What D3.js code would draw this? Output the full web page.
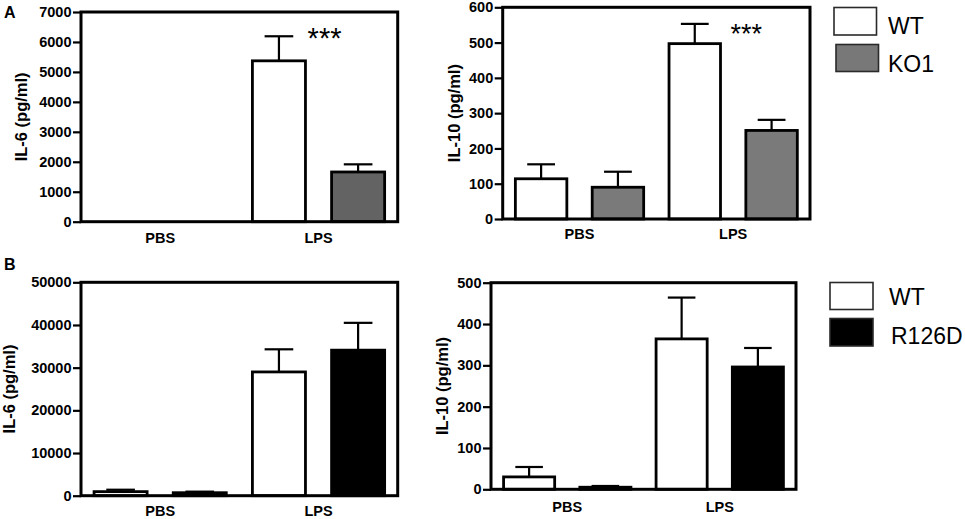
<!DOCTYPE html>
<html><head><meta charset="utf-8">
<script src="https://cdn.jsdelivr.net/npm/d3@7"></script>
<style>
body{margin:0;background:#fff}
svg{display:block}
text{font-family:"Liberation Sans",Arial,Helvetica,sans-serif}
</style>
</head><body>
<svg id="chart" width="965" height="519"></svg>
<script>
// ---------- DATA ----------
const categories = ["PBS", "LPS"];
const seriesA = ["WT", "KO1"];
const seriesB = ["WT", "R126D"];

// Panel A, IL-6 (pg/ml)
const aIL6_WT = [0, 5370];
const aIL6_WT_sem = [0, 820];
const aIL6_KO1 = [0, 1660];
const aIL6_KO1_sem = [0, 255];
const aIL6_ticks = [0, 1000, 2000, 3000, 4000, 5000, 6000, 7000];

// Panel A, IL-10 (pg/ml)
const aIL10_WT = [114, 497];
const aIL10_WT_sem = [41, 56];
const aIL10_KO1 = [90, 251];
const aIL10_KO1_sem = [44, 30];
const aIL10_ticks = [0, 100, 200, 300, 400, 500, 600];

// Panel B, IL-6 (pg/ml)
const bIL6_WT = [950, 29000];
const bIL6_WT_sem = [450, 5300];
const bIL6_R126D = [700, 34100];
const bIL6_R126D_sem = [250, 6400];
const bIL6_ticks = [0, 10000, 20000, 30000, 40000, 50000];

// Panel B, IL-10 (pg/ml)
const bIL10_WT = [30, 364];
const bIL10_WT_sem = [24, 100];
const bIL10_R126D = [5, 296];
const bIL10_R126D_sem = [3, 46];
const bIL10_ticks = [0, 100, 200, 300, 400, 500];

// ---------- LAYOUT ----------
const svg = d3.select("#chart");
const FONT_BOLD = 700;

const panels = [
  {box:[81, 12, 397.7, 221.7], ylab:"IL-6 (pg/ml)", ylabX:27, series:seriesA,
   vals:[aIL6_WT, aIL6_KO1], sems:[aIL6_WT_sem, aIL6_KO1_sem], ticks:aIL6_ticks,
   fills:["#ffffff", "#636363"], catY:242.7, sig:{cat:"LPS", dx:6, y:47.5, size:29}},
  {box:[502.7, 7.3, 810, 219], ylab:"IL-10 (pg/ml)", ylabX:460, series:seriesA,
   vals:[aIL10_WT, aIL10_KO1], sems:[aIL10_WT_sem, aIL10_KO1_sem], ticks:aIL10_ticks,
   fills:["#ffffff", "#7a7a7a"], catY:239.3, sig:{cat:"LPS", dx:13, y:42.5, size:27}},
  {box:[81, 282.3, 397.7, 495.7], ylab:"IL-6 (pg/ml)", ylabX:15, series:seriesB,
   vals:[bIL6_WT, bIL6_R126D], sems:[bIL6_WT_sem, bIL6_R126D_sem], ticks:bIL6_ticks,
   fills:["#ffffff", "#000000"], catY:516},
  {box:[491, 282.7, 796, 489.3], ylab:"IL-10 (pg/ml)", ylabX:447.5, series:seriesB,
   vals:[bIL10_WT, bIL10_R126D], sems:[bIL10_WT_sem, bIL10_R126D_sem], ticks:bIL10_ticks,
   fills:["#ffffff", "#000000"], catY:511.5}
];

panels.forEach(p => {
  const [x0, y0, x1, y1] = p.box;
  const g = svg.append("g");
  const xCat = d3.scaleBand().domain(categories).range([x0, x1]);
  const xSer = d3.scaleBand().domain(p.series).range([0, xCat.bandwidth()])
    .paddingInner(0.33).paddingOuter(0.165);
  const y = d3.scaleLinear().domain([0, d3.max(p.ticks)]).range([y1, y0]);

  const rows = [];
  p.series.forEach((s, si) => categories.forEach((c, ci) => {
    rows.push({s, si, c, v:p.vals[si][ci], e:p.sems[si][ci]});
  }));
  const drawn = rows.filter(d => d.v > 0);

  // error bars (behind bars)
  const capW = xSer.bandwidth() * 0.54;
  drawn.forEach(d => {
    const cx = xCat(d.c) + xSer(d.s) + xSer.bandwidth() / 2;
    g.append("line").attr("x1", cx).attr("x2", cx)
      .attr("y1", y(d.v)).attr("y2", y(d.v + d.e))
      .attr("stroke", "#000").attr("stroke-width", 2.2);
    g.append("line").attr("x1", cx - capW / 2).attr("x2", cx + capW / 2)
      .attr("y1", y(d.v + d.e)).attr("y2", y(d.v + d.e))
      .attr("stroke", "#000").attr("stroke-width", 2.2);
  });

  g.selectAll("rect.bar").data(drawn).join("rect").attr("class", "bar")
    .attr("x", d => xCat(d.c) + xSer(d.s))
    .attr("width", xSer.bandwidth())
    .attr("y", d => y(d.v))
    .attr("height", d => y(0) - y(d.v))
    .attr("fill", d => p.fills[d.si])
    .attr("stroke", "#000").attr("stroke-width", 2.8);

  // frame
  g.append("rect").attr("x", x0).attr("y", y0).attr("width", x1 - x0).attr("height", y1 - y0)
    .attr("fill", "none").attr("stroke", "#000").attr("stroke-width", 3);

  // y axis
  const ax = g.append("g").attr("transform", `translate(${x0},0)`)
    .call(d3.axisLeft(y).tickValues(p.ticks).tickSize(8).tickPadding(1.5).tickFormat(d3.format("d")));
  ax.select(".domain").remove();
  ax.selectAll(".tick line").attr("stroke", "#000").attr("stroke-width", 2.2);
  ax.selectAll(".tick text").attr("fill", "#000").style("font-size", "14.5px")
    .style("font-weight", FONT_BOLD).style("font-family", '"Liberation Sans",Arial,sans-serif');

  // category labels
  g.selectAll("text.cat").data(categories).join("text").attr("class", "cat")
    .attr("x", d => xCat(d) + xCat.bandwidth() / 2).attr("y", p.catY)
    .attr("text-anchor", "middle").style("font-size", "14.5px").style("font-weight", FONT_BOLD)
    .text(d => d);

  // y label
  g.append("text")
    .attr("transform", `translate(${p.ylabX},${(y0 + y1) / 2}) rotate(-90)`)
    .attr("text-anchor", "middle").style("font-size", "16.5px").style("font-weight", FONT_BOLD)
    .text(p.ylab);

  // significance
  if (p.sig) {
    g.append("text").attr("x", xCat(p.sig.cat) + xCat.bandwidth() / 2 + p.sig.dx)
      .attr("y", p.sig.y).attr("text-anchor", "middle")
      .style("font-size", p.sig.size + "px").text("***");
  }
});

// panel letters
svg.append("text").attr("x", 4).attr("y", 18).style("font-size", "16px").style("font-weight", 700).text("A");
svg.append("text").attr("x", 4).attr("y", 270).style("font-size", "16px").style("font-weight", 700).text("B");

// legends
const legends = [
  {items:seriesA, fills:["#ffffff", "#787878"], boxes:[[834, 7.5, 42.5, 27.5], [836, 44.5, 42.5, 27]], text:[[888, 33.5], [888, 71.5]]},
  {items:seriesB, fills:["#ffffff", "#000000"], boxes:[[830, 282.5, 43, 27], [830, 318.5, 43, 27.5]], text:[[889, 304.5], [891, 344]]}
];
legends.forEach(L => {
  const lg = svg.append("g");
  L.items.forEach((s, i) => {
    const b = L.boxes[i];
    lg.append("rect").attr("x", b[0]).attr("y", b[1]).attr("width", b[2]).attr("height", b[3])
      .attr("fill", L.fills[i]).attr("stroke", "#2a2a2a").attr("stroke-width", 1.6);
    lg.append("text").attr("x", L.text[i][0]).attr("y", L.text[i][1])
      .style("font-size", "23px").text(s);
  });
});
</script>
</body></html>
